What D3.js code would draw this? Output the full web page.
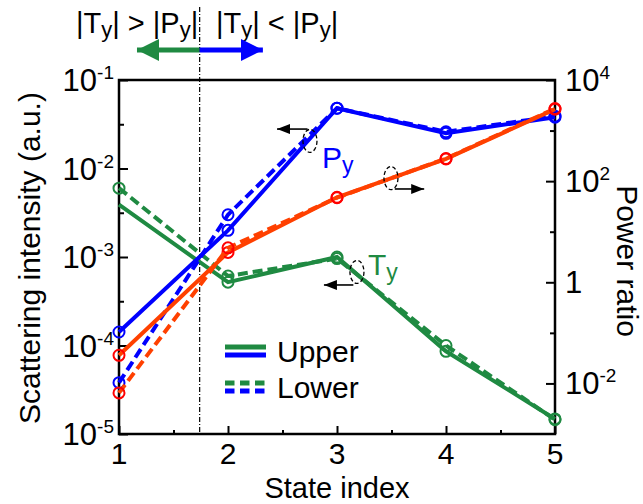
<!DOCTYPE html>
<html><head><meta charset="utf-8">
<script src="https://cdn.jsdelivr.net/npm/d3@7"></script>
<style>body{margin:0;background:#fff}svg{display:block}text{font-family:"Liberation Sans",Arial,sans-serif;fill:#000}</style>
</head><body><svg id="c" width="643" height="504"></svg>
<script>
// ---- data ----
const states = [1, 2, 3, 4, 5];
const pyUpper = [1.42e-4, 2.0e-3, 4.8e-2, 2.5e-2, 3.8e-2];
const pyLower = [3.8e-5, 3.0e-3, 4.8e-2, 2.6e-2, 3.9e-2];
const tyUpper = [3.9e-3, 5.2e-4, 1.0e-3, 8.6e-5, 1.48e-5];
const tyLower = [6.0e-3, 6.1e-4, 9.6e-4, 1.0e-4, 1.45e-5];
const ratioUpper = [0.036, 3.9, 48, 275, 2650];
const ratioLower = [0.0065, 4.8, 47, 280, 2720];
const leftMajor = [1e-5, 1e-4, 1e-3, 1e-2, 1e-1];
const rightMajor = [1e-2, 1, 1e2, 1e4];
const legendLabels = ["Upper", "Lower"];
const divider = 1.74;

const svg = d3.select("#c");
const L = 119, R = 555, T = 80, B = 434;
const x = d3.scaleLinear().domain([1, 5]).range([L, R]);
const yL = d3.scaleLog().domain([1e-5, 1e-1]).range([B, T]);
const yR = d3.scaleLog().domain([1e-3, 1e4]).range([B, T]);

const GREEN = "#1f8a42", BLUE = "#0000ff", REDL = "#ff4000", REDM = "#ff0000";
const FS = 31;

// ---- axes ticks ----
function styleAxis(g){ g.select(".domain").remove(); g.selectAll("line").attr("stroke","#000").attr("stroke-width",2); }
const leftMinor = leftMajor.slice(0,-1).map(v => v*Math.sqrt(10));
svg.append("g").attr("transform",`translate(${L},0)`).call(d3.axisLeft(yL).tickValues(leftMajor).tickSize(-9).tickFormat("")).call(styleAxis);
svg.append("g").attr("transform",`translate(${L},0)`).call(d3.axisLeft(yL).tickValues(leftMinor).tickSize(-5).tickFormat("")).call(styleAxis);
const rightMinor = [1e3, 10, 0.1];
svg.append("g").attr("transform",`translate(${R},0)`).call(d3.axisRight(yR).tickValues(rightMajor).tickSize(-9).tickFormat("")).call(styleAxis);
svg.append("g").attr("transform",`translate(${R},0)`).call(d3.axisRight(yR).tickValues(rightMinor).tickSize(-5).tickFormat("")).call(styleAxis);
svg.append("g").attr("transform",`translate(0,${B})`).call(d3.axisBottom(x).tickValues(states).tickSize(-8).tickFormat("")).call(styleAxis);
svg.append("g").attr("transform",`translate(0,${B})`).call(d3.axisBottom(x).tickValues([1.5,2.5,3.5,4.5]).tickSize(-4).tickFormat("")).call(styleAxis);
svg.append("rect").attr("x",L).attr("y",T).attr("width",R-L).attr("height",B-T).attr("fill","none").attr("stroke","#000").attr("stroke-width",2.5);

// tick labels
leftMajor.forEach(v => {
  const t = svg.append("text").attr("x", L-5).attr("y", yL(v)+11).attr("text-anchor","end").attr("font-size",FS);
  t.append("tspan").text("10");
  t.append("tspan").attr("dy",-12).attr("font-size",19).text(String(Math.round(Math.log10(v))));
});
rightMajor.forEach(v => {
  const e = Math.round(Math.log10(v));
  const t = svg.append("text").attr("x", R+10).attr("y", yR(v)+11).attr("font-size",FS);
  if (e === 0) { t.text("1"); return; }
  t.append("tspan").text("10");
  t.append("tspan").attr("dy",-12).attr("font-size",19).text(String(e));
});
states.forEach(s => {
  svg.append("text").attr("x", x(s)).attr("y", 464).attr("text-anchor","middle").attr("font-size",30).text(s);
});
svg.append("text").attr("x", x(3)).attr("y", 497.5).attr("text-anchor","middle").attr("font-size",29).text("State index");
svg.append("text").attr("transform",`translate(40,258) rotate(-90)`).attr("text-anchor","middle").attr("font-size",30).text("Scattering intensity (a.u.)");
svg.append("text").attr("transform",`translate(617,261) rotate(90)`).attr("text-anchor","middle").attr("font-size",30).text("Power ratio");

// divider line
svg.append("line").attr("x1",x(divider)).attr("x2",x(divider)).attr("y1",7).attr("y2",B)
  .attr("stroke","#000").attr("stroke-width",1.2).attr("stroke-dasharray","5,2,1,2");

// ---- series ----
const series = [
  {v: tyUpper, y: yL, lc: GREEN, mc: GREEN, dash: null, skip: [0]},
  {v: tyLower, y: yL, lc: GREEN, mc: GREEN, dash: "10,5", skip: []},
  {v: pyUpper, y: yL, lc: BLUE, mc: BLUE, dash: null, skip: []},
  {v: pyLower, y: yL, lc: BLUE, mc: BLUE, dash: "10,5", skip: []},
  {v: ratioUpper, y: yR, lc: REDL, mc: REDM, dash: null, skip: []},
  {v: ratioLower, y: yR, lc: REDL, mc: REDM, dash: "10,5", skip: []},
];
series.forEach(s => {
  const pts = states.map((st,i) => [st, s.v[i]]);
  const line = d3.line().x(d => x(d[0])).y(d => s.y(d[1]));
  svg.append("path").attr("d", line(pts)).attr("fill","none").attr("stroke", s.lc)
    .attr("stroke-width",4).attr("stroke-dasharray", s.dash);
  svg.append("g").selectAll("circle").data(pts.filter((d,i) => !s.skip.includes(i))).join("circle")
    .attr("cx", d => x(d[0])).attr("cy", d => s.y(d[1])).attr("r",5.5)
    .attr("fill","none").attr("stroke", s.mc).attr("stroke-width",2);
});

// ---- annotations ----
const defs = svg.append("defs");
function head(id, color, w, h){
  defs.append("marker").attr("id",id).attr("viewBox",`0 0 ${w} ${h}`).attr("refX",w).attr("refY",h/2)
    .attr("markerWidth",w).attr("markerHeight",h).attr("markerUnits","userSpaceOnUse").attr("orient","auto")
    .append("path").attr("d",`M0,0L${w},${h/2}L0,${h}Z`).attr("fill",color);
}
head("hk","#000",13,10); head("hg",GREEN,22,22); head("hb",BLUE,22,22);
function note(cx, cy, ax1, ax2, ay){
  svg.append("ellipse").attr("cx",cx).attr("cy",cy).attr("rx",7).attr("ry",11.5)
    .attr("fill","none").attr("stroke","#000").attr("stroke-width",1.3).attr("stroke-dasharray","4,2.5");
  svg.append("line").attr("x1",ax1).attr("x2",ax2).attr("y1",ay).attr("y2",ay)
    .attr("stroke","#000").attr("stroke-width",1.6).attr("marker-end","url(#hk)");
}
note(x(2.752), yL(0.0205), x(2.73), x(2.45), yL(0.0279));
note(x(3.495), yR(115), x(3.53), x(3.80), yR(70));
note(x(3.183), yL(6.78e-4), x(3.15), x(2.88), yL(4.83e-4));

function subLabel(xp, yp, main, color){
  const t = svg.append("text").attr("x",xp).attr("y",yp).attr("font-size",30).style("fill",color);
  t.append("tspan").text(main);
  t.append("tspan").attr("dy",5).attr("font-size",23).text("y");
}
subLabel(x(2.862), yL(0.01014), "P", BLUE);
subLabel(x(3.284), yL(6.27e-4), "T", GREEN);

// header
function header(xp, rel){
  const t = svg.append("text").attr("x",xp).attr("y",33).attr("font-size",29);
  t.append("tspan").text("|T");
  t.append("tspan").attr("dy",4).attr("font-size",22).text("y");
  t.append("tspan").attr("dy",-4).text("| " + rel + " |P");
  t.append("tspan").attr("dy",4).attr("font-size",22).text("y");
  t.append("tspan").attr("dy",-4).text("|");
}
header(76, ">");
header(216, "<");
svg.append("line").attr("x1",x(divider)).attr("x2",x(1.165)).attr("y1",50).attr("y2",50)
  .attr("stroke",GREEN).attr("stroke-width",5).attr("marker-end","url(#hg)");
svg.append("line").attr("x1",x(divider)).attr("x2",x(2.32)).attr("y1",50).attr("y2",50)
  .attr("stroke",BLUE).attr("stroke-width",5).attr("marker-end","url(#hb)");

// legend
const lg = svg.append("g");
[[null, 347, 355, 362], ["9.5,5.5", 383, 391, 398]].forEach((r, i) => {
  lg.append("line").attr("x1",225).attr("x2",266).attr("y1",r[1]).attr("y2",r[1]).attr("stroke",GREEN).attr("stroke-width",5).attr("stroke-dasharray",r[0]);
  lg.append("line").attr("x1",225).attr("x2",266).attr("y1",r[2]).attr("y2",r[2]).attr("stroke",BLUE).attr("stroke-width",5).attr("stroke-dasharray",r[0]);
  lg.append("text").attr("x",277).attr("y",r[3]).attr("font-size",30).text(legendLabels[i]);
});
</script></body></html>
